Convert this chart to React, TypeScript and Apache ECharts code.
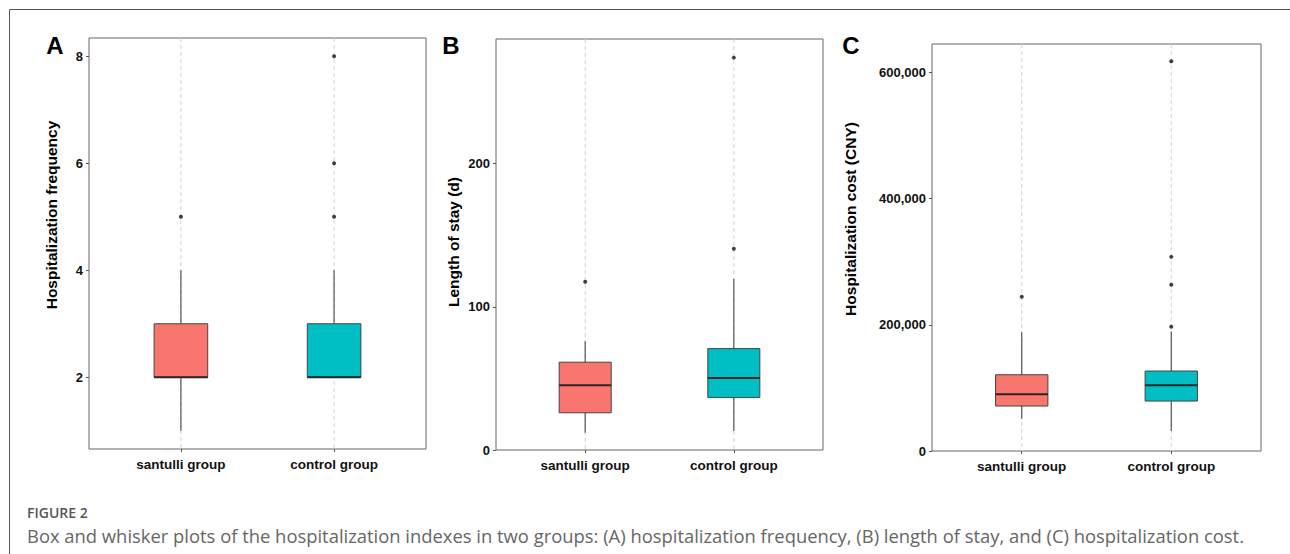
import React, { useEffect, useRef } from "react";
import * as echarts from "echarts";

const categories = ["santulli group", "control group"];

// [min, Q1, median, Q3, max]
const freqBoxes = [
  [1, 2, 2, 3, 4],
  [2, 2, 2, 3, 4],
];
const freqOutliers = [
  [1, 5],
  [2, 5],
  [2, 6],
  [2, 8],
];

const stayBoxes = [
  [12.1, 26, 45.2, 61.3, 76],
  [13.3, 36.6, 50.3, 70.8, 119.4],
];
const stayOutliers = [
  [1, 117.5],
  [2, 140.6],
  [2, 274],
];

const costBoxes = [
  [51200, 71300, 89800, 120900, 188100],
  [31700, 79200, 104100, 126800, 189000],
];
const costOutliers = [
  [1, 244500],
  [2, 196900],
  [2, 263500],
  [2, 307800],
  [2, 617900],
];

const freqTicks = [2, 4, 6, 8];
const stayTicks = [0, 100, 200];
const costTicks = [0, 200000, 400000, 600000];

const groupColors = ["#F8766D", "#00BFC4"];

const panels = [
  {
    letter: "A",
    title: "Hospitalization frequency",
    boxes: freqBoxes,
    outliers: freqOutliers,
    ticks: freqTicks,
    yMin: 0.66,
    yMax: 8.34,
    grid: { left: 89, top: 38, width: 337, height: 411 },
    letterPos: [55, 45],
    titlePos: [51, 215],
  },
  {
    letter: "B",
    title: "Length of stay (d)",
    boxes: stayBoxes,
    outliers: stayOutliers,
    ticks: stayTicks,
    yMin: 0,
    yMax: 287,
    grid: { left: 496, top: 39, width: 327, height: 411 },
    letterPos: [451, 45],
    titlePos: [453, 242],
  },
  {
    letter: "C",
    title: "Hospitalization cost (CNY)",
    boxes: costBoxes,
    outliers: costOutliers,
    ticks: costTicks,
    yMin: 0,
    yMax: 645300,
    grid: { left: 932, top: 44, width: 329, height: 407 },
    letterPos: [851, 45],
    titlePos: [850, 219],
  },
];

const fontFamily = "'Liberation Sans', Arial, Helvetica, sans-serif";

function fmtNum(v: number) {
  return Math.round(v).toString().replace(/\B(?=(\d{3})+(?!\d))/g, ",");
}

export default function App() {
  const ref = useRef<HTMLDivElement>(null);

  useEffect(() => {
    if (!ref.current) return;
    const chart = echarts.init(ref.current, undefined, { renderer: "svg" });

    const grids: any[] = [];
    const xAxes: any[] = [];
    const yAxes: any[] = [];
    const series: any[] = [];
    const graphics: any[] = [];

    panels.forEach((p, i) => {
      grids.push({
        left: p.grid.left,
        top: p.grid.top,
        width: p.grid.width,
        height: p.grid.height,
        show: true,
        borderColor: "#666",
        borderWidth: 1,
        backgroundColor: "transparent",
      });
      xAxes.push({
        type: "value",
        gridIndex: i,
        min: 0.4,
        max: 2.6,
        axisLine: { show: false },
        splitLine: { show: false },
        axisTick: {
          show: true,
          length: 3,
          customValues: [1, 2],
          lineStyle: { color: "#555" },
        },
        axisLabel: {
          show: true,
          customValues: [1, 2],
          formatter: (v: number) => categories[Math.round(v) - 1] ?? "",
          margin: 8,
          fontFamily,
          fontWeight: "bold",
          fontSize: 13.5,
          color: "#111",
        },
      });
      yAxes.push({
        type: "value",
        gridIndex: i,
        min: p.yMin,
        max: p.yMax,
        axisLine: { show: false },
        splitLine: { show: false },
        axisTick: {
          show: true,
          length: 3,
          customValues: p.ticks,
          lineStyle: { color: "#555" },
        },
        axisLabel: {
          show: true,
          customValues: p.ticks,
          formatter: (v: number) => fmtNum(v),
          margin: 6,
          fontFamily,
          fontWeight: "bold",
          fontSize: 13,
          color: "#111",
        },
      });

      const yMin = p.yMin;
      const yMax = p.yMax;
      series.push({
        type: "custom",
        xAxisIndex: i,
        yAxisIndex: i,
        clip: false,
        z: 2,
        data: p.boxes.map((b, k) => [k + 1, ...b, k]),
        renderItem: (params: any, api: any) => {
          const x = api.value(0);
          const cIdx = api.value(6);
          const pMin = api.coord([x, api.value(1)]);
          const pQ1 = api.coord([x, api.value(2)]);
          const pMed = api.coord([x, api.value(3)]);
          const pQ3 = api.coord([x, api.value(4)]);
          const pMax = api.coord([x, api.value(5)]);
          const pTop = api.coord([x, yMax]);
          const pBot = api.coord([x, yMin]);
          const half = api.size([0.35, 0])[0] / 2;
          const cx = pMed[0];
          return {
            type: "group",
            children: [
              {
                type: "line",
                shape: { x1: cx, y1: pTop[1], x2: cx, y2: pBot[1] },
                style: { stroke: "#d3d3d3", lineWidth: 1, lineDash: [4, 3] },
              },
              {
                type: "line",
                shape: { x1: cx, y1: pQ3[1], x2: cx, y2: pMax[1] },
                style: { stroke: "#555", lineWidth: 1.2 },
              },
              {
                type: "line",
                shape: { x1: cx, y1: pMin[1], x2: cx, y2: pQ1[1] },
                style: { stroke: "#555", lineWidth: 1.2 },
              },
              {
                type: "rect",
                shape: {
                  x: cx - half,
                  y: pQ3[1],
                  width: half * 2,
                  height: pQ1[1] - pQ3[1],
                },
                style: {
                  fill: groupColors[cIdx],
                  stroke: "#444",
                  lineWidth: 1,
                },
              },
              {
                type: "line",
                shape: {
                  x1: cx - half,
                  y1: pMed[1],
                  x2: cx + half,
                  y2: pMed[1],
                },
                style: { stroke: "#262626", lineWidth: 2 },
              },
            ],
          };
        },
      });
      series.push({
        type: "scatter",
        xAxisIndex: i,
        yAxisIndex: i,
        z: 5,
        symbol: "circle",
        symbolSize: 4,
        itemStyle: { color: "#111" },
        data: p.outliers,
      });

      graphics.push({
        type: "text",
        x: p.letterPos[0],
        y: p.letterPos[1],
        style: {
          text: p.letter,
          fontFamily,
          fontWeight: "bold",
          fontSize: 24,
          fill: "#000",
          align: "center",
          verticalAlign: "middle",
        },
      });
      graphics.push({
        type: "text",
        x: p.titlePos[0],
        y: p.titlePos[1],
        rotation: Math.PI / 2,
        style: {
          text: p.title,
          fontFamily,
          fontWeight: "bold",
          fontSize: 15.5,
          fill: "#000",
          align: "center",
          verticalAlign: "middle",
        },
      });
    });

    graphics.push(
      {
        type: "line",
        shape: { x1: 9.5, y1: 9.5, x2: 1290, y2: 9.5 },
        style: { stroke: "#555", lineWidth: 1 },
      },
      {
        type: "line",
        shape: { x1: 9.5, y1: 9.5, x2: 9.5, y2: 554 },
        style: { stroke: "#555", lineWidth: 1 },
      },
      {
        type: "text",
        x: 27,
        y: 512,
        style: {
          text: "FIGURE 2",
          fontFamily: "'Open Sans', sans-serif",
          fontWeight: 600,
          fontSize: 14,
          fill: "#555",
          verticalAlign: "middle",
        },
      },
      {
        type: "text",
        x: 27,
        y: 535,
        style: {
          text: "Box and whisker plots of the hospitalization indexes in two groups: (A) hospitalization frequency, (B) length of stay, and (C) hospitalization cost.",
          fontFamily: "'Open Sans', sans-serif",
          fontSize: 18.4,
          fill: "#666",
          verticalAlign: "middle",
        },
      }
    );

    chart.setOption({
      animation: false,
      backgroundColor: "#fff",
      grid: grids,
      xAxis: xAxes,
      yAxis: yAxes,
      series,
      graphic: graphics,
    });

    return () => chart.dispose();
  }, []);

  return (
    <div
      ref={ref}
      style={{
        position: "fixed",
        left: 0,
        top: 0,
        width: 1290,
        height: 554,
        background: "#fff",
      }}
    />
  );
}
